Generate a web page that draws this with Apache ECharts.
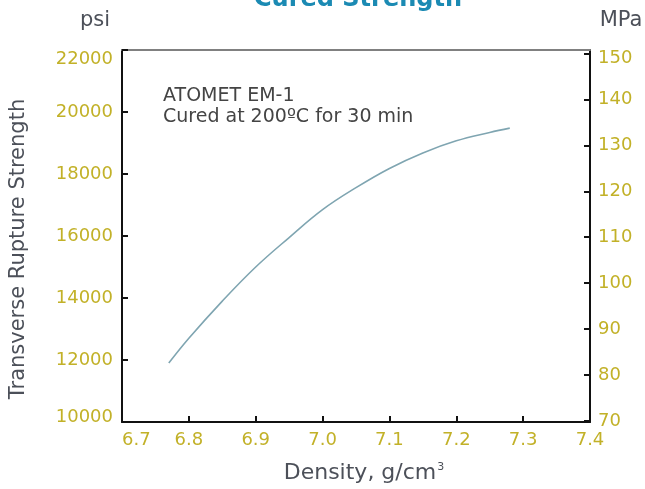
<!DOCTYPE html>
<html><head><meta charset="utf-8">
<script src="https://cdn.jsdelivr.net/npm/echarts@6/dist/echarts.min.js"></script>
<style>html,body{margin:0;padding:0;background:#fff}#c{width:645px;height:489px}</style>
</head><body><div id="c"></div>
<script>
const density = [6.77, 6.8, 6.85, 6.9, 6.95, 7.0, 7.05, 7.1, 7.15, 7.2, 7.25, 7.28];
const strengthPsi = [11900, 12700, 13900, 15000, 15950, 16850, 17560, 18180, 18680, 19070, 19340, 19480];
const psiTicks = [10000, 12000, 14000, 16000, 18000, 20000, 22000];
const mpaTicks = [70, 80, 90, 100, 110, 120, 130, 140, 150];
const densityTicks = [6.7, 6.8, 6.9, 7.0, 7.1, 7.2, 7.3, 7.4];
const titleText = 'Cured Strength';
const yTitle = 'Transverse Rupture Strength';
const xTitle = 'Density, g/cm{sup|3}';
const noteLines = ['ATOMET EM-1', 'Cured at 200ºC for 30 min'];

const FONT = '"DejaVu Sans", "Liberation Sans", Arial, sans-serif';
const TICK_COLOR = '#c2b128';
const NAME_COLOR = '#4c5059';
const chart = echarts.init(document.getElementById('c'), null, {renderer: 'canvas'});
chart.setOption({
  animation: false,
  backgroundColor: '#ffffff',
  grid: {left: 122, right: 55, top: 50, bottom: 67, containLabel: false},
  graphic: [
    {type: 'text', x: 358, y: 12, style: {text: titleText, font: 'bold 24px ' + FONT, fill: '#1b8ab3', align: 'center', verticalAlign: 'bottom'}, z: 10},
    {type: 'text', x: 95, y: 21, style: {text: 'psi', font: '21px ' + FONT, fill: NAME_COLOR, align: 'center', verticalAlign: 'middle'}},
    {type: 'text', x: 621, y: 21, style: {text: 'MPa', font: '21px ' + FONT, fill: NAME_COLOR, align: 'center', verticalAlign: 'middle'}},
    {type: 'text', x: 163, y: 96, style: {text: noteLines[0], font: '19px ' + FONT, fill: '#444444', verticalAlign: 'middle'}},
    {type: 'text', x: 163, y: 117, style: {text: noteLines[1], font: '19px ' + FONT, fill: '#444444', verticalAlign: 'middle'}},
    {type: 'text', x: 19, y: 249, rotation: Math.PI / 2, style: {text: yTitle, font: '21px ' + FONT, fill: NAME_COLOR, align: 'center', verticalAlign: 'middle'}},
    {type: 'text', x: 364, y: 473, style: {text: xTitle, font: '22px ' + FONT, fill: NAME_COLOR, align: 'center', verticalAlign: 'middle',
      rich: {sup: {fontFamily: FONT, fontSize: 11, fill: NAME_COLOR, verticalAlign: 'top', padding: [0, 0, 9, 1]}}}}
  ],
  xAxis: [{
    type: 'value', min: densityTicks[0], max: densityTicks[densityTicks.length - 1], interval: 0.1,
    position: 'bottom',
    axisLine: {show: true, lineStyle: {color: '#111', width: 2}},
    axisTick: {show: true, inside: true, length: 6, lineStyle: {color: '#111', width: 2}},
    splitLine: {show: false},
    axisLabel: {fontFamily: FONT, fontSize: 18, color: TICK_COLOR, margin: 9, alignMinLabel: 'left',
      formatter: v => v.toFixed(1)}
  }, {
    type: 'value', min: densityTicks[0], max: densityTicks[densityTicks.length - 1], position: 'top',
    axisLine: {show: true, lineStyle: {color: '#808080', width: 2}},
    axisTick: {show: false}, axisLabel: {show: false}, splitLine: {show: false}
  }],
  yAxis: [{
    type: 'value', min: psiTicks[0], max: psiTicks[psiTicks.length - 1], interval: 2000,
    position: 'left',
    axisLine: {show: true, lineStyle: {color: '#111', width: 2}},
    axisTick: {show: true, inside: true, length: 6, lineStyle: {color: '#111', width: 2}},
    splitLine: {show: false},
    axisLabel: {fontFamily: FONT, fontSize: 18, color: TICK_COLOR, margin: 9,
      formatter: v => v === psiTicks[psiTicks.length - 1] ? '{top|' + v + '}' : (v === psiTicks[0] ? '{bot|' + v + '}' : String(v)),
      rich: {
        top: {fontFamily: FONT, fontSize: 18, color: TICK_COLOR, padding: [18, 0, 0, 0]},
        bot: {fontFamily: FONT, fontSize: 18, color: TICK_COLOR, padding: [0, 0, 10, 0]}
      }}
  }, {
    type: 'value', min: 69.78, max: 150.76,
    position: 'right',
    axisLine: {show: true, onZero: false, lineStyle: {color: '#111', width: 2}},
    axisTick: {show: true, inside: true, length: 6, customValues: mpaTicks, lineStyle: {color: '#111', width: 2}},
    splitLine: {show: false},
    axisLabel: {fontFamily: FONT, fontSize: 18, color: TICK_COLOR, margin: 8, customValues: mpaTicks,
      formatter: v => v === mpaTicks[mpaTicks.length - 1] ? '{top|' + v + '}' : String(v),
      rich: {top: {fontFamily: FONT, fontSize: 18, color: TICK_COLOR, padding: [10, 0, 0, 0]}}}
  }],
  series: [{
    type: 'line', xAxisIndex: 0, yAxisIndex: 0,
    data: density.map((d, i) => [d, strengthPsi[i]]),
    smooth: 0.4, showSymbol: false, symbol: 'none',
    lineStyle: {color: '#7fa5b1', width: 1.6}
  }]
});
</script></body></html>
